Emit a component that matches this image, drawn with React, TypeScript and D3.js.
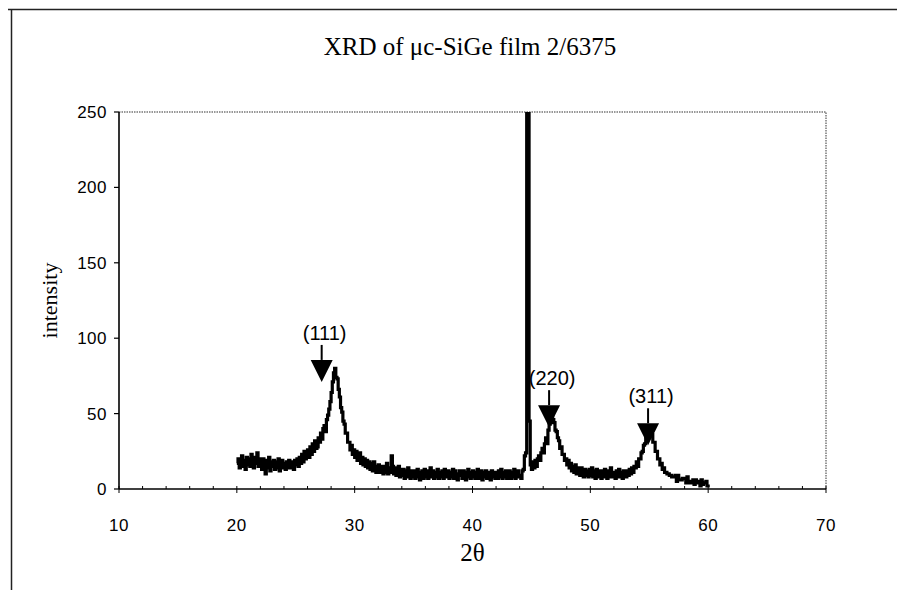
import React, { useEffect, useRef } from "react";
import * as d3 from "d3";

// XRD scan, 2theta from 20 to 60 in 0.1 degree steps
const thetaStart = 20;
const thetaStep = 0.1;
const intensity = [
  17, 20, 14, 19, 22, 15, 19, 13, 21, 16,
  20, 15, 23, 16, 14, 21, 17, 24, 15, 20,
  16, 13, 20, 15, 10, 19, 14, 21, 12, 18,
  15, 19, 13, 18, 14, 20, 12, 17, 19, 14,
  17, 13, 18, 14, 19, 15, 14, 18, 13, 19,
  16, 20, 15, 21, 17, 23, 18, 25, 20, 24,
  26, 21, 28, 23, 30, 25, 32, 27, 28, 34,
  31, 37, 33, 40, 42, 38, 46, 49, 53, 58,
  64, 71, 77, 80, 74, 73, 66, 61, 54, 51,
  45, 43, 37, 37, 31, 31, 26, 29, 23, 26,
  21, 25, 19, 22, 24, 17, 21, 16, 20, 15,
  19, 14, 18, 13, 17, 12, 18, 14, 11, 15,
  16, 11, 15, 12, 10, 15, 11, 17, 10, 14,
  11, 22, 15, 10, 14, 9, 13, 15, 8, 13,
  9, 13, 7, 12, 8, 14, 9, 7, 12, 8,
  12, 7, 11, 13, 8, 6, 11, 12, 7, 13,
  8, 12, 7, 11, 14, 8, 12, 7, 11, 8,
  13, 7, 11, 8, 12, 7, 13, 9, 8, 12,
  7, 11, 8, 13, 7, 12, 9, 6, 10, 12,
  9, 7, 12, 8, 6, 11, 13, 8, 7, 11,
  12, 8, 7, 11, 13, 7, 8, 12, 6, 11,
  8, 12, 7, 11, 8, 6, 12, 8, 11, 7,
  11, 7, 12, 8, 13, 7, 11, 8, 12, 7,
  8, 12, 7, 11, 8, 13, 7, 11, 12, 8,
  9, 7, 12, 13, 22, 24, 300, 300, 45, 16,
  13, 18, 14, 19, 15, 20, 22, 19, 24, 27,
  24, 30, 34, 30, 39, 43, 44, 50, 46, 44,
  39, 38, 34, 32, 27, 28, 23, 23, 19, 20,
  16, 19, 14, 17, 12, 15, 11, 16, 10, 14,
  11, 9, 14, 10, 8, 13, 9, 12, 8, 13,
  9, 14, 8, 12, 7, 13, 9, 8, 12, 7,
  12, 8, 13, 9, 7, 12, 8, 14, 9, 8,
  11, 7, 12, 8, 13, 8, 11, 7, 12, 9,
  8, 12, 9, 13, 10, 14, 11, 15, 14, 18,
  15, 20, 20, 24, 25, 29, 30, 35, 35, 40,
  42, 37, 36, 31, 31, 25, 25, 20, 20, 16,
  17, 13, 14, 11, 11, 10, 10, 9, 9, 8,
  8, 8, 9, 5, 9, 6, 6, 6, 7, 7,
  7, 4, 8, 4, 5, 5, 4, 6, 3, 6,
  4, 5, 5, 2, 6, 3, 4, 4, 5, 2,
  3,
];

const peakLabels = ["(111)", "(220)", "(311)"];
const peakTheta = [27.2, 46.5, 54.9];
const peakTip = [71, 41, 29];

const xTicks = [10, 20, 30, 40, 50, 60, 70];
const yTicks = [0, 50, 100, 150, 200, 250];

export default function App() {
  const ref = useRef<SVGSVGElement>(null);

  useEffect(() => {
    const width = 897;
    const height = 590;
    const margin = { top: 112, right: 71, bottom: 101, left: 119 };

    const svg = d3.select(ref.current);
    svg.selectAll("*").remove();

    const x = d3.scaleLinear().domain([10, 70]).range([margin.left, width - margin.right]);
    const y = d3.scaleLinear().domain([0, 250]).range([height - margin.bottom, margin.top]);

    // outer frame of the scanned figure
    svg.append("line")
      .attr("x1", 8).attr("x2", width).attr("y1", 9.5).attr("y2", 9.5)
      .attr("stroke", "#222").attr("stroke-width", 1.5);
    svg.append("line")
      .attr("x1", 11.5).attr("x2", 11.5).attr("y1", 9).attr("y2", height)
      .attr("stroke", "#222").attr("stroke-width", 1.5);

    // title
    svg.append("text")
      .attr("x", 470).attr("y", 55)
      .attr("text-anchor", "middle")
      .attr("font-family", "Liberation Serif")
      .attr("font-size", 25)
      .text("XRD of μc-SiGe film 2/6375");

    // top and right edges of plot area (grey dotted)
    svg.append("path")
      .attr("d", `M${x(10)},${y(250)}H${x(70)}V${y(0)}`)
      .attr("fill", "none")
      .attr("stroke", "#777")
      .attr("stroke-width", 1.5)
      .attr("stroke-dasharray", "1.5,1");

    // data
    svg.append("clipPath").attr("id", "plotclip")
      .append("rect")
      .attr("x", x(10)).attr("y", y(250))
      .attr("width", x(70) - x(10)).attr("height", y(0) - y(250));

    const line = d3.line<number>()
      .x((d, i) => x(thetaStart + i * thetaStep))
      .y(d => y(d))
      .curve(d3.curveStepAfter);

    svg.append("path")
      .datum(intensity)
      .attr("clip-path", "url(#plotclip)")
      .attr("d", line)
      .attr("fill", "none")
      .attr("stroke", "#000")
      .attr("stroke-width", 3.2)
      .attr("stroke-linejoin", "miter");

    // axes
    const axisG = svg.append("g").attr("stroke", "#000");
    axisG.append("line")
      .attr("x1", x(10)).attr("x2", x(10)).attr("y1", y(250)).attr("y2", y(0))
      .attr("stroke-width", 1.6);
    axisG.append("line")
      .attr("x1", x(10)).attr("x2", x(70)).attr("y1", y(0)).attr("y2", y(0))
      .attr("stroke-width", 1.6);

    yTicks.forEach(t => {
      axisG.append("line")
        .attr("x1", x(10) - 5).attr("x2", x(10)).attr("y1", y(t)).attr("y2", y(t))
        .attr("stroke-width", 1.2);
    });
    d3.range(10, 71, 2).forEach(t => {
      const major = t % 10 === 0;
      axisG.append("line")
        .attr("x1", x(t)).attr("x2", x(t))
        .attr("y1", y(0) - 3).attr("y2", y(0) + (major ? 4 : 0))
        .attr("stroke-width", 1);
    });

    svg.append("g")
      .selectAll("text")
      .data(yTicks)
      .join("text")
      .attr("x", x(10) - 12)
      .attr("y", d => y(d) + 6)
      .attr("text-anchor", "end")
      .attr("font-family", "Liberation Sans")
      .attr("font-size", 17)
      .attr("letter-spacing", 0.5)
      .text(d => d);

    svg.append("g")
      .selectAll("text")
      .data(xTicks)
      .join("text")
      .attr("x", d => x(d))
      .attr("y", y(0) + 42)
      .attr("text-anchor", "middle")
      .attr("font-family", "Liberation Sans")
      .attr("font-size", 17)
      .attr("letter-spacing", 0.5)
      .text(d => d);

    // axis titles
    svg.append("text")
      .attr("transform", `translate(57,${(y(0) + y(250)) / 2}) rotate(-90)`)
      .attr("text-anchor", "middle")
      .attr("font-family", "Liberation Serif")
      .attr("font-size", 22)
      .text("intensity");

    svg.append("text")
      .attr("x", x(40)).attr("y", 561)
      .attr("text-anchor", "middle")
      .attr("font-family", "Liberation Serif")
      .attr("font-size", 25)
      .text("2θ");

    // peak markers
    const marks = svg.append("g");
    peakLabels.forEach((lab, i) => {
      const px = x(peakTheta[i]);
      const tip = y(peakTip[i]);
      const triTop = tip - 22;
      const stemTop = triTop - 15;
      marks.append("path")
        .attr("d", `M${px - 11},${triTop}L${px + 11},${triTop}L${px},${tip}Z`)
        .attr("fill", "#000");
      marks.append("line")
        .attr("x1", px).attr("x2", px).attr("y1", stemTop).attr("y2", triTop)
        .attr("stroke", "#000").attr("stroke-width", 2);
      marks.append("text")
        .attr("x", px + 3).attr("y", stemTop - 5)
        .attr("text-anchor", "middle")
        .attr("font-family", "Liberation Sans")
        .attr("font-size", 20)
        .text(lab);
    });
  }, []);

  return (
    <svg
      ref={ref}
      width={897}
      height={590}
      style={{ position: "absolute", left: 0, top: 0, background: "#fff" }}
    />
  );
}
